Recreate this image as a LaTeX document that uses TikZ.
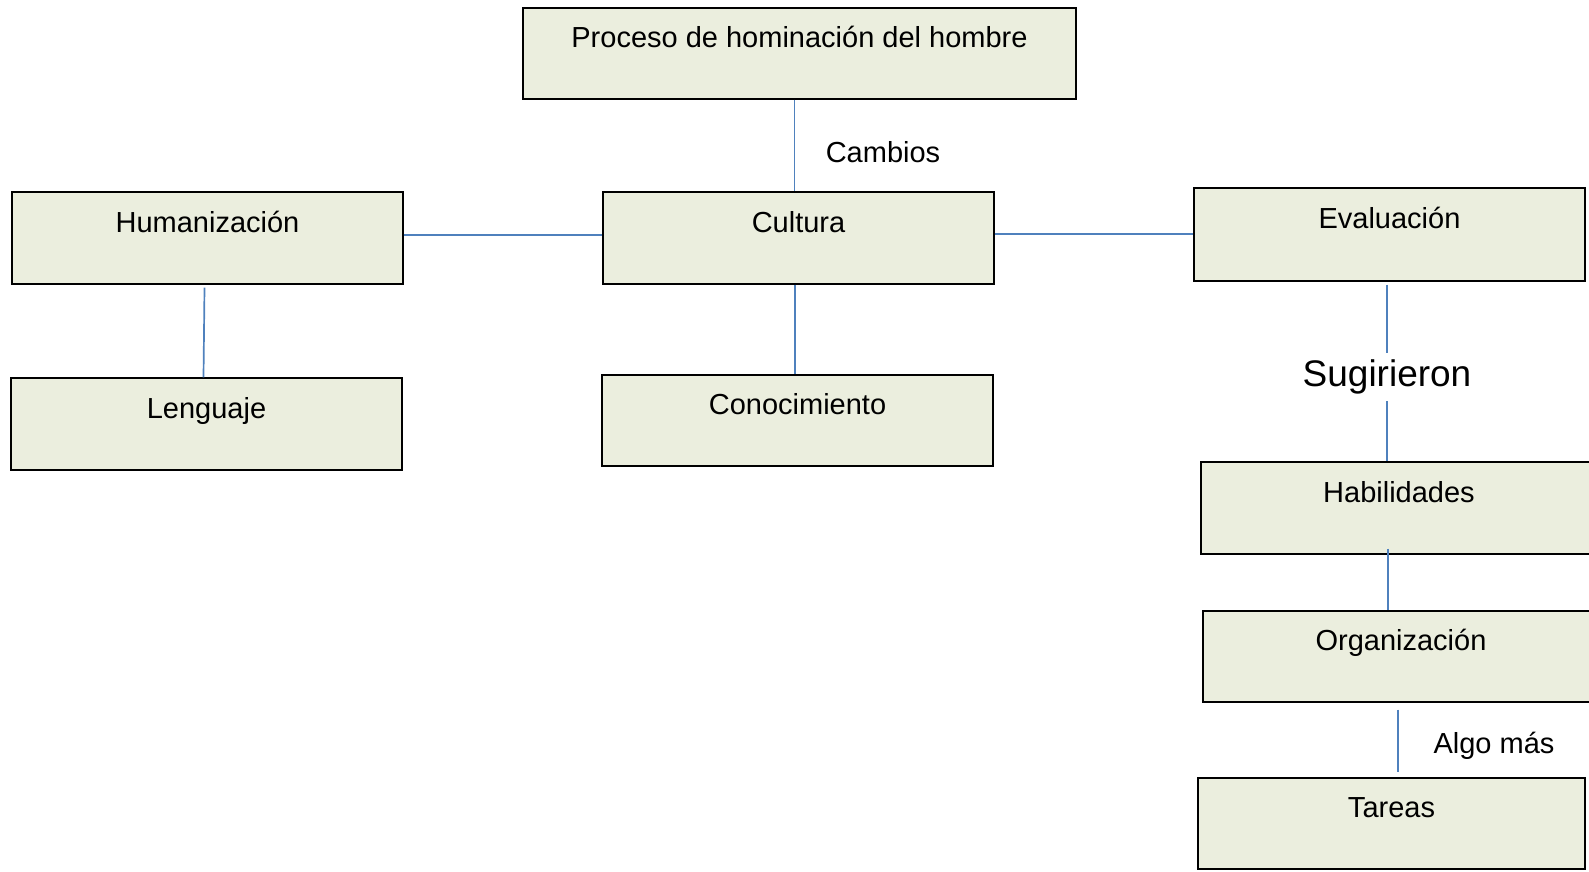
\documentclass[tikz,border=0pt]{standalone}
\usepackage{fontspec}
\setmainfont{Liberation Sans}
\definecolor{boxfill}{HTML}{EBEEDE}
\definecolor{connblue}{HTML}{4F81BD}
\begin{document}
\begin{tikzpicture}[x=1pt,y=-1pt,
  box/.style={draw=black,fill=boxfill,line width=1.3pt,inner sep=0pt,
    font=\fontsize{29}{34}\selectfont,text height=21pt,text depth=33pt},
  conn/.style={draw=connblue,line width=1.7pt},
  lbl/.style={inner sep=0pt,font=\fontsize{29}{34}\selectfont}]
\useasboundingbox (0,0) rectangle (1589,872);
\node[box,minimum width=553pt,minimum height=91pt] (P) at (799.5,53.5) {Proceso de hominación del hombre};
\node[box,minimum width=391pt,minimum height=92pt] (H) at (207.5,238) {Humanización};
\node[box,minimum width=391pt,minimum height=92pt] (C) at (798.5,238) {Cultura};
\node[box,minimum width=391pt,minimum height=93pt] (E) at (1389.5,234.5) {Evaluación};
\node[box,minimum width=391pt,minimum height=92pt] (L) at (206.5,424) {Lenguaje};
\node[box,minimum width=391pt,minimum height=91pt] (Con) at (797.5,420.5) {Conocimiento};
\node[box,minimum width=396pt,minimum height=92pt] (Hab) at (1399,508) {Habilidades};
\node[box,minimum width=396pt,minimum height=91pt] (Org) at (1401,656.5) {Organización};
\node[box,minimum width=387pt,minimum height=91pt] (T) at (1391.5,823.5) {Tareas};
\node[lbl] (cam) at (883,152) {Cambios};
\node[inner sep=7pt,font=\fontsize{37}{44}\selectfont] (sug) at (1387,377) {Sugirieron};
\node[lbl] (alg) at (1494,746) {Algo más};
% connectors
\draw[conn] ([xshift=-4pt]C.north |- P.south) -- ([xshift=-4pt]C.north);
\draw[conn] ([yshift=3pt]H.east) -- ([yshift=3pt]C.west);
\draw[conn] ([yshift=0.5pt]E.west -| C.east) -- ([yshift=0.5pt]E.west);
\draw[conn] ([xshift=-3pt,yshift=-3pt]H.south) -- ([xshift=-3pt]L.north);
\draw[conn] ([xshift=-3.5pt]C.south) -- ([xshift=-2.5pt]Con.north);
\draw[conn] ([xshift=-2.5pt,yshift=-3pt]E.south) -- (sug.north);
\draw[conn] (sug.south) -- (sug.south |- Hab.north);
\draw[conn] ([xshift=-11pt,yshift=6pt]Hab.south) -- ([xshift=-13pt]Org.north);
\draw[conn] ([xshift=-3pt,yshift=-7pt]Org.south) -- ([xshift=6.5pt,yshift=5pt]T.north);
\end{tikzpicture}
\end{document}
